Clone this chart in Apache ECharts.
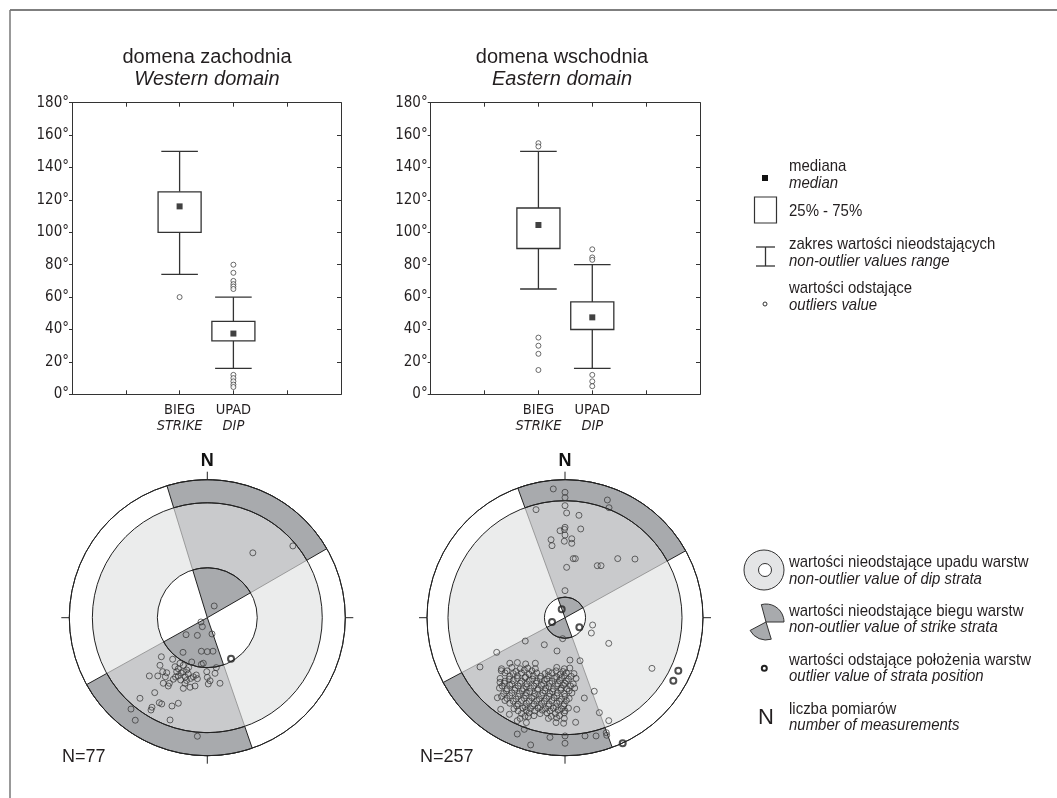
<!DOCTYPE html>
<html><head><meta charset="utf-8">
<script src="https://cdn.jsdelivr.net/npm/echarts/dist/echarts.min.js"></script>
<style>html,body{margin:0;padding:0;background:#fff}#c{width:1057px;height:798px}</style>
</head><body><div id="c"></div>
<script>
// ---------------- DATA ----------------
const categories = ['BIEG', 'UPAD'];
const categoriesEn = ['STRIKE', 'DIP'];
const categoryPos = [2, 3];
const yTickMax = 180, yTickStep = 20;
// [min(whisker), q1, median, q3, max(whisker)]
const westBox = [[74, 100, 116, 125, 150], [16, 33, 37.5, 45, 60]];
const eastBox = [[65, 90, 104.5, 115, 150], [16, 40, 47.5, 57, 80]];
const westOutliers = [[60], [80, 75, 70, 68, 66.5, 65, 12, 10, 8, 6, 4.5]];
const eastOutliers = [[155, 153, 35, 30, 25, 15], [89.5, 84.5, 83, 12, 8, 5]];

// stereonets: dip ring radii (normalised), strike sectors (azimuths of dip direction)
const westDipRing = [0.362, 0.833];
const eastDipRing = [0.149, 0.848];
const westSectors = [[343, 60], [161, 241]];
const eastSectors = [[340, 61], [160, 242]];
const westCount = 77, eastCount = 257;

// projected pole positions [east, north], primitive circle radius = 1
const westPoints = [
[0.33,0.47],[0.62,0.52],[0.05,0.085],
[-0.046,-0.031],[-0.036,-0.065],[-0.072,-0.128],[-0.154,-0.123],[0.034,-0.118],
[-0.176,-0.251],[-0.043,-0.243],[0,-0.246],[0.041,-0.243],
[-0.333,-0.283],[-0.251,-0.301],[-0.198,-0.330],[-0.113,-0.321],[-0.043,-0.338],[-0.029,-0.330],
[-0.343,-0.345],[-0.234,-0.355],[-0.174,-0.345],[-0.149,-0.379],[-0.222,-0.391],[-0.323,-0.391],[-0.294,-0.399],[0.065,-0.362],[-0.004,-0.391],[0.056,-0.403],
[-0.420,-0.422],[-0.359,-0.422],[-0.304,-0.428],[-0.246,-0.446],[-0.210,-0.422],[-0.174,-0.391],[-0.138,-0.408],[-0.101,-0.428],[-0.072,-0.442],[0,-0.432],[0.092,-0.475],
[-0.319,-0.475],[-0.275,-0.475],[-0.283,-0.495],[-0.193,-0.451],[-0.162,-0.475],[-0.125,-0.504],[-0.089,-0.495],[0.007,-0.480],[0.020,-0.457],[-0.174,-0.512],
[-0.381,-0.543],[-0.488,-0.584],[-0.348,-0.616],[-0.330,-0.625],[-0.401,-0.649],[-0.408,-0.669],[-0.256,-0.640],[-0.210,-0.620],
[-0.553,-0.662],[-0.522,-0.743],[-0.270,-0.741],[-0.072,-0.859],
[-0.19,-0.40],[-0.16,-0.43],[-0.12,-0.44],[-0.08,-0.415],[-0.21,-0.37],[-0.135,-0.36],[-0.23,-0.43],[-0.15,-0.455]
];
const westOutlierPts = [[0.172,-0.297]];

const eastPoints = [
// northern sector
[-0.085,0.933],[0,0.909],[0,0.870],[0.307,0.853],[0.319,0.797],[-0.210,0.783],[0,0.812],[0.012,0.759],[0.101,0.742],
[0,0.655],[-0.036,0.630],[-0.004,0.640],[0.114,0.643],[0,0.599],[-0.101,0.565],[-0.094,0.522],[-0.005,0.554],[0.049,0.572],[0.049,0.539],
[0.060,0.428],[0.075,0.428],[0.012,0.365],[0.234,0.377],[0.261,0.377],[0.382,0.428],[0.507,0.425],[0,0.196],
// eastern part
[0.20,-0.053],[0.191,-0.111],[0.317,-0.186],[0.630,-0.367],
// around centre
[-0.288,-0.169],[-0.150,-0.196],[-0.017,-0.152],[-0.058,-0.241],[0.036,-0.307],[0.109,-0.312],[-0.616,-0.357],[-0.495,-0.251],
// around the cluster
[-0.462,-0.384],[-0.471,-0.468],[-0.490,-0.580],[-0.466,-0.664],[-0.403,-0.700],[-0.346,-0.746],[-0.266,-0.717],
[0.077,-0.758],[0.085,-0.664],[0.140,-0.582],[0.212,-0.533],[0.249,-0.688],[0.317,-0.746],[0.299,-0.833],[0.302,-0.852],
// outer band
[-0.346,-0.843],[-0.295,-0.809],[-0.249,-0.922],[-0.109,-0.867],[0,-0.857],[0,-0.910],[0.145,-0.857],[0.225,-0.857],
// dense cluster
[-0.40,-0.33],[-0.345,-0.325],[-0.285,-0.335],[-0.215,-0.33],
[-0.46,-0.37],[-0.385,-0.36],[-0.325,-0.37],[-0.27,-0.365],[-0.215,-0.37],[-0.06,-0.36],[-0.005,-0.37],[0.035,-0.365],
[-0.42,-0.385],[-0.355,-0.39],[-0.295,-0.38],[-0.24,-0.385],[-0.12,-0.39],[-0.065,-0.385],[-0.015,-0.39],
[-0.435,-0.40],[-0.375,-0.405],[-0.315,-0.40],[-0.26,-0.41],[-0.205,-0.40],[-0.145,-0.405],[-0.095,-0.40],[-0.035,-0.41],[0.01,-0.40],[0.065,-0.405],
[-0.40,-0.425],[-0.345,-0.42],[-0.285,-0.43],[-0.23,-0.42],[-0.175,-0.425],[-0.12,-0.42],[-0.06,-0.43],[-0.005,-0.42],[0.045,-0.425],
[-0.47,-0.44],[-0.405,-0.445],[-0.345,-0.44],[-0.29,-0.435],[-0.235,-0.445],[-0.18,-0.44],[-0.13,-0.445],[-0.075,-0.44],[-0.025,-0.435],[0.025,-0.445],[0.08,-0.44],
[-0.435,-0.46],[-0.375,-0.455],[-0.315,-0.46],[-0.26,-0.455],[-0.205,-0.46],[-0.15,-0.455],[-0.095,-0.46],[-0.04,-0.455],[0.01,-0.46],
[-0.44,-0.475],[-0.385,-0.48],[-0.325,-0.475],[-0.275,-0.48],[-0.21,-0.475],[-0.155,-0.48],[-0.11,-0.475],[-0.05,-0.48],[0,-0.475],[0.06,-0.48],
[-0.455,-0.495],[-0.40,-0.49],[-0.34,-0.495],[-0.28,-0.50],[-0.225,-0.495],[-0.17,-0.49],[-0.115,-0.50],[-0.06,-0.495],[-0.01,-0.49],[0.04,-0.495],
[-0.475,-0.51],[-0.42,-0.515],[-0.36,-0.51],[-0.30,-0.515],[-0.25,-0.51],[-0.195,-0.515],[-0.14,-0.51],[-0.085,-0.515],[-0.03,-0.51],[0.015,-0.515],[0.07,-0.51],
[-0.425,-0.53],[-0.365,-0.525],[-0.31,-0.53],[-0.255,-0.535],[-0.20,-0.525],[-0.145,-0.53],[-0.09,-0.535],[-0.03,-0.525],[0.03,-0.53],
[-0.445,-0.55],[-0.385,-0.545],[-0.33,-0.55],[-0.28,-0.545],[-0.22,-0.55],[-0.16,-0.545],[-0.11,-0.55],[-0.055,-0.545],[-0.005,-0.55],[0.05,-0.545],
[-0.46,-0.57],[-0.40,-0.565],[-0.34,-0.57],[-0.285,-0.565],[-0.225,-0.57],[-0.17,-0.565],[-0.115,-0.57],[-0.06,-0.565],[0,-0.57],
[-0.42,-0.585],[-0.355,-0.59],[-0.295,-0.585],[-0.24,-0.58],[-0.185,-0.59],[-0.135,-0.585],[-0.08,-0.58],[-0.025,-0.59],[0.03,-0.585],
[-0.435,-0.60],[-0.375,-0.605],[-0.315,-0.60],[-0.26,-0.605],[-0.205,-0.60],[-0.15,-0.605],[-0.095,-0.60],[-0.04,-0.605],[0.01,-0.60],
[-0.40,-0.62],[-0.34,-0.625],[-0.28,-0.62],[-0.225,-0.625],[-0.17,-0.62],[-0.115,-0.625],[-0.06,-0.62],[-0.005,-0.625],
[-0.35,-0.64],[-0.29,-0.645],[-0.235,-0.64],[-0.18,-0.645],[-0.12,-0.64],[-0.065,-0.645],[-0.01,-0.64],
[-0.37,-0.66],[-0.305,-0.655],[-0.25,-0.66],[-0.195,-0.655],[-0.14,-0.66],[-0.085,-0.655],[-0.025,-0.66],[0.025,-0.655],
[-0.34,-0.675],[-0.28,-0.67],[-0.22,-0.675],[-0.165,-0.67],[-0.11,-0.675],[-0.05,-0.67],[0,-0.675],
[-0.315,-0.695],[-0.26,-0.69],[-0.18,-0.695],[-0.13,-0.69],[-0.07,-0.695],[-0.005,-0.69],
[-0.29,-0.715],[-0.225,-0.71],[-0.10,-0.715],[-0.04,-0.71],
[-0.325,-0.73],[-0.12,-0.73],[-0.06,-0.725],[-0.005,-0.73],
[-0.28,-0.76],[-0.065,-0.76],[-0.01,-0.765]
];
const eastOutlierPts = [[-0.024,0.061],[-0.094,-0.031],[0.104,-0.070],[0.821,-0.384],[0.785,-0.457],[0.418,-0.910]];

// ---------------- LAYOUT / STYLE ----------------
const NARROW = "'DejaVu Sans Condensed','Liberation Sans Narrow',sans-serif";
const SANS = "'Liberation Sans',Arial,sans-serif";
const INK = '#231f20';
const DARK = '#a8aaad', MID = '#c9cacc', LIGHT = '#ebecec';
const R = 138, CY = 617.7;
const WC = [207.3, CY], EC = [565, CY];
const boxGrids = [{left: 72, top: 102.7, width: 269, height: 291.6}, {left: 430.7, top: 102.7, width: 269.3, height: 291.6}];

const chart = echarts.init(document.getElementById('c'), null, {renderer: 'canvas'});

function boxRender(params, api) {
  const x = api.value(0);
  const lo = api.coord([x, api.value(1)]);
  const q1 = api.coord([x, api.value(2)]);
  const q3 = api.coord([x, api.value(4)]);
  const hi = api.coord([x, api.value(5)]);
  const bw = api.size([0.8, 0])[0];
  const cw = api.size([0.68, 0])[0];
  const st = {stroke: '#333', lineWidth: 1.3};
  return {type: 'group', children: [
    {type: 'line', shape: {x1: hi[0], y1: hi[1], x2: q3[0], y2: q3[1]}, style: st},
    {type: 'line', shape: {x1: lo[0], y1: lo[1], x2: q1[0], y2: q1[1]}, style: st},
    {type: 'line', shape: {x1: hi[0] - cw / 2, y1: hi[1], x2: hi[0] + cw / 2, y2: hi[1]}, style: st},
    {type: 'line', shape: {x1: lo[0] - cw / 2, y1: lo[1], x2: lo[0] + cw / 2, y2: lo[1]}, style: st},
    {type: 'rect', shape: {x: q3[0] - bw / 2, y: q3[1], width: bw, height: q1[1] - q3[1]}, style: {fill: '#fff', stroke: '#333', lineWidth: 1.3}}
  ]};
}

function boxSeries(stats, outs, xi, yi) {
  const boxData = stats.map((s, i) => [categoryPos[i]].concat(s));
  const medData = stats.map((s, i) => [categoryPos[i], s[2]]);
  const outData = [];
  outs.forEach((arr, i) => arr.forEach(v => outData.push([categoryPos[i], v])));
  return [
    {type: 'custom', xAxisIndex: xi, yAxisIndex: yi, data: boxData, renderItem: boxRender, z: 3, silent: true,
     encode: {x: 0, y: [1, 2, 3, 4, 5]}},
    {type: 'scatter', xAxisIndex: xi, yAxisIndex: yi, data: medData, symbol: 'rect', symbolSize: 6, z: 5, silent: true,
     itemStyle: {color: '#111'}},
    {type: 'scatter', xAxisIndex: xi, yAxisIndex: yi, data: outData, symbol: 'circle', symbolSize: 5, z: 5, silent: true,
     itemStyle: {color: '#fff', borderColor: '#333', borderWidth: 0.9}}
  ];
}

function sectorSeries(pi, data, fill, stroke, lw, z) {
  return {type: 'custom', coordinateSystem: 'polar', polarIndex: pi, data: data, z: z, silent: true,
    encode: {radius: [0, 1], angle: [2, 3]},
    renderItem(params, api) {
      const cs = params.coordSys, cx = cs.cx, cy = cs.cy;
      const r0v = api.value(0), r1v = api.value(1), a0 = api.value(2), a1 = api.value(3);
      const pOut = api.coord([r1v, a0]), pIn = api.coord([r0v, a0]), pEnd = api.coord([r1v, a1]);
      const Ro = Math.hypot(pOut[0] - cx, pOut[1] - cy);
      const Ri = Math.hypot(pIn[0] - cx, pIn[1] - cy);
      let s, e;
      if (a1 - a0 >= 360) { s = 0; e = Math.PI * 2; }
      else {
        s = Math.atan2(pOut[1] - cy, pOut[0] - cx);
        e = Math.atan2(pEnd[1] - cy, pEnd[0] - cx);
        if (e <= s) e += Math.PI * 2;
      }
      return {type: 'sector', shape: {cx, cy, r0: Ri, r: Ro, startAngle: s, endAngle: e, clockwise: true},
              style: {fill: fill, stroke: stroke, lineWidth: lw}};
    }};
}

function ringSeries(pi, radii, z) {
  return {type: 'custom', coordinateSystem: 'polar', polarIndex: pi, data: radii.map(r => [r, 0]), z: z, silent: true,
    encode: {radius: 0, angle: 1},
    renderItem(params, api) {
      const cs = params.coordSys;
      const p = api.coord([api.value(0), 0]);
      const r = Math.hypot(p[0] - cs.cx, p[1] - cs.cy);
      return {type: 'circle', shape: {cx: cs.cx, cy: cs.cy, r: r}, style: {fill: 'none', stroke: '#222', lineWidth: 1}};
    }};
}

function stereoSeries(pi, ring, sectors, pts, outPts, xi) {
  const mid = sectors.map(s => [ring[0], ring[1], s[0], s[1]]);
  const inner = sectors.map(s => [0, ring[0], s[0], s[1]]);
  const outer = sectors.map(s => [ring[1], 1, s[0], s[1]]);
  return [
    sectorSeries(pi, [[ring[0], ring[1], 0, 360]], LIGHT, 'none', 0, 1),
    sectorSeries(pi, mid, MID, '#8a8a8a', 0.8, 2),
    sectorSeries(pi, inner.concat(outer), DARK, '#222', 1, 2),
    ringSeries(pi, [ring[0], ring[1], 1], 3),
    {type: 'scatter', xAxisIndex: xi, yAxisIndex: xi, data: pts, symbol: 'circle', symbolSize: 6, z: 6, silent: true,
     itemStyle: {color: 'rgba(255,255,255,0)', borderColor: '#333', borderWidth: 0.9}},
    {type: 'scatter', xAxisIndex: xi, yAxisIndex: xi, data: outPts, symbol: 'circle', symbolSize: 6, z: 7, silent: true,
     itemStyle: {color: 'rgba(255,255,255,0)', borderColor: '#222', borderWidth: 2}}
  ];
}

const axisLine = {show: true, onZero: false, lineStyle: {color: '#333', width: 1}};
function boxXAxes(gi) {
  return [
    {gridIndex: gi, type: 'value', min: 0, max: 5, interval: 1, position: 'bottom', axisLine: axisLine,
     axisTick: {show: true, inside: true, length: 4, lineStyle: {color: '#333'}}, splitLine: {show: false},
     axisLabel: {margin: 8, formatter: v => { const i = categoryPos.indexOf(v); return i < 0 ? '' : '{a|' + categories[i] + '}\n{b|' + categoriesEn[i] + '}'; },
       rich: {a: {fontFamily: NARROW, fontSize: 14.5, color: INK, lineHeight: 16}, b: {fontFamily: NARROW, fontSize: 14.5, fontStyle: 'italic', color: INK, lineHeight: 16}}}},
    {gridIndex: gi, type: 'value', min: 0, max: 5, interval: 1, position: 'top', axisLine: axisLine,
     axisTick: {show: true, inside: true, length: 4, lineStyle: {color: '#333'}}, splitLine: {show: false}, axisLabel: {show: false}}
  ];
}
function boxYAxes(gi) {
  return [
    {gridIndex: gi, type: 'value', min: 0, max: yTickMax, interval: yTickStep, position: 'left', axisLine: axisLine,
     axisTick: {show: true, inside: false, length: 3, lineStyle: {color: '#333'}}, splitLine: {show: false},
     axisLabel: {margin: 3, formatter: '{value}°', fontFamily: NARROW, fontSize: 15, color: INK}},
    {gridIndex: gi, type: 'value', min: 0, max: yTickMax, interval: yTickStep, position: 'right', axisLine: axisLine,
     axisTick: {show: true, inside: true, length: 4, lineStyle: {color: '#333'}}, splitLine: {show: false}, axisLabel: {show: false}}
  ];
}
const hiddenAxis = gi => ({gridIndex: gi, type: 'value', min: -1, max: 1, show: false, splitLine: {show: false}});

function angleAxis(pi) {
  return {polarIndex: pi, type: 'value', min: 0, max: 360, interval: 90, startAngle: 90, clockwise: true,
    axisLine: {show: true, lineStyle: {color: '#222', width: 1}},
    axisTick: {show: true, length: 8, lineStyle: {color: '#222', width: 1}},
    splitLine: {show: false},
    axisLabel: {margin: 10, formatter: v => v === 0 ? 'N' : '', fontFamily: SANS, fontWeight: 'bold', fontSize: 18, color: '#111'}};
}
const radiusAxis = pi => ({polarIndex: pi, type: 'value', min: 0, max: 1, axisLine: {show: false}, axisTick: {show: false},
  axisLabel: {show: false}, splitLine: {show: false}});

// legend graphics (narrow look: Liberation Sans compressed horizontally)
function txt(x, y, t, size, italic, family, align, sx) {
  return {type: 'text', x: x, y: y, scaleX: sx || 1, silent: true, z: 10,
    style: {text: t, fontSize: size, fontFamily: family || SANS, fontStyle: italic ? 'italic' : 'normal', fill: INK,
            align: align || 'left', verticalAlign: 'middle'}};
}
const leg = (x, y, t, italic) => txt(x, y, t, 17, italic, SANS, 'left', 0.88);
const LX = 789;
const deg = a => (a - 90) * Math.PI / 180;
const graphic = [
  {type: 'line', shape: {x1: 10, y1: 10, x2: 1057, y2: 10}, style: {stroke: '#555', lineWidth: 1.5}, silent: true},
  {type: 'line', shape: {x1: 10, y1: 10, x2: 10, y2: 798}, style: {stroke: '#777', lineWidth: 1.5}, silent: true},
  txt(207, 57, 'domena zachodnia', 20, false, SANS, 'center'),
  txt(207, 79.5, 'Western domain', 20, true, SANS, 'center'),
  txt(562, 57, 'domena wschodnia', 20, false, SANS, 'center'),
  txt(562, 79.5, 'Eastern domain', 20, true, SANS, 'center'),
  txt(62, 757, 'N=' + westCount, 18, false, SANS),
  txt(420, 757.5, 'N=' + eastCount, 18, false, SANS),
  // top legend
  {type: 'rect', shape: {x: 762, y: 175, width: 6, height: 6}, style: {fill: '#111'}, silent: true},
  leg(LX, 166, 'mediana'), leg(LX, 183, 'median', true),
  {type: 'rect', shape: {x: 754.5, y: 197, width: 22, height: 26}, style: {fill: '#fff', stroke: '#333', lineWidth: 1.2}, silent: true},
  leg(LX, 211, '25% - 75%'),
  {type: 'line', shape: {x1: 765.5, y1: 247, x2: 765.5, y2: 266}, style: {stroke: '#333', lineWidth: 1.3}, silent: true},
  {type: 'line', shape: {x1: 756, y1: 247, x2: 775, y2: 247}, style: {stroke: '#333', lineWidth: 1.3}, silent: true},
  {type: 'line', shape: {x1: 756, y1: 266, x2: 775, y2: 266}, style: {stroke: '#333', lineWidth: 1.3}, silent: true},
  leg(LX, 244, 'zakres wartości nieodstających'), leg(LX, 261.5, 'non-outlier values range', true),
  {type: 'circle', shape: {cx: 765, cy: 304, r: 2}, style: {fill: '#fff', stroke: '#333', lineWidth: 1}, silent: true},
  leg(LX, 288.5, 'wartości odstające'), leg(LX, 305.5, 'outliers value', true),
  // bottom legend
  {type: 'circle', shape: {cx: 764, cy: 570, r: 20}, style: {fill: '#e4e5e6', stroke: '#333', lineWidth: 1}, silent: true},
  {type: 'circle', shape: {cx: 765, cy: 570, r: 6.5}, style: {fill: '#fff', stroke: '#333', lineWidth: 1}, silent: true},
  leg(LX, 562, 'wartości nieodstające upadu warstw'), leg(LX, 579, 'non-outlier value of dip strata', true),
  {type: 'sector', shape: {cx: 766, cy: 622, r0: 0, r: 18, startAngle: deg(345), endAngle: deg(90)}, style: {fill: DARK, stroke: '#333', lineWidth: 1}, silent: true},
  {type: 'sector', shape: {cx: 766, cy: 622, r0: 0, r: 18, startAngle: deg(163), endAngle: deg(242)}, style: {fill: DARK, stroke: '#333', lineWidth: 1}, silent: true},
  leg(LX, 611, 'wartości nieodstające biegu warstw'), leg(LX, 627.5, 'non-outlier value of strike strata', true),
  {type: 'circle', shape: {cx: 764.3, cy: 668.3, r: 2.5}, style: {fill: '#fff', stroke: '#222', lineWidth: 2}, silent: true},
  leg(LX, 660, 'wartości odstające położenia warstw'), leg(LX, 676.5, 'outlier value of strata position', true),
  txt(766, 718, 'N', 22, false, SANS, 'center'),
  leg(LX, 709, 'liczba pomiarów'), leg(LX, 725.5, 'number of measurements', true)
];

const option = {
  animation: false,
  backgroundColor: '#fff',
  textStyle: {fontFamily: NARROW},
  grid: [
    Object.assign({}, boxGrids[0]), Object.assign({}, boxGrids[1]),
    {left: WC[0] - R, top: WC[1] - R, width: 2 * R, height: 2 * R},
    {left: EC[0] - R, top: EC[1] - R, width: 2 * R, height: 2 * R}
  ],
  xAxis: boxXAxes(0).concat(boxXAxes(1), [hiddenAxis(2), hiddenAxis(3)]),
  yAxis: boxYAxes(0).concat(boxYAxes(1), [hiddenAxis(2), hiddenAxis(3)]),
  polar: [{center: WC, radius: R}, {center: EC, radius: R}],
  angleAxis: [angleAxis(0), angleAxis(1)],
  radiusAxis: [radiusAxis(0), radiusAxis(1)],
  series: [].concat(
    boxSeries(westBox, westOutliers, 0, 0),
    boxSeries(eastBox, eastOutliers, 2, 2),
    stereoSeries(0, westDipRing, westSectors, westPoints, westOutlierPts, 4),
    stereoSeries(1, eastDipRing, eastSectors, eastPoints, eastOutlierPts, 5)
  ),
  graphic: graphic
};
chart.setOption(option);
</script></body></html>
